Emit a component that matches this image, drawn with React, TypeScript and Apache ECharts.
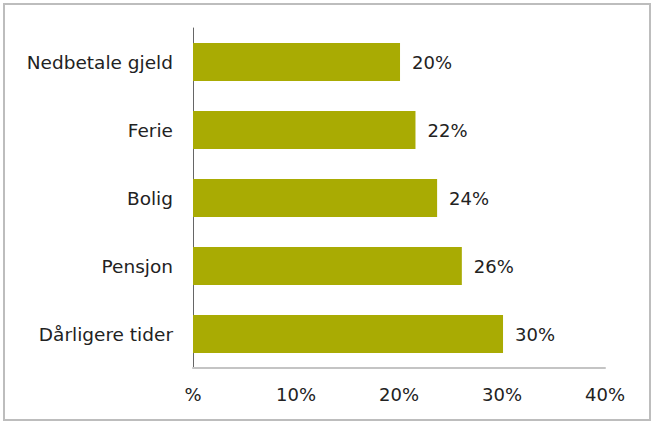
import React, { useEffect, useRef } from "react";
import * as echarts from "echarts";

const categories = ["Nedbetale gjeld", "Ferie", "Bolig", "Pensjon", "Dårligere tider"];
const values = [20.1, 21.6, 23.7, 26.1, 30.1];
const xTicks = [0, 10, 20, 30, 40];

export default function App() {
  const ref = useRef<HTMLDivElement>(null);
  useEffect(() => {
    document.body.style.margin = "0";
    const chart = echarts.init(ref.current!, null, { renderer: "svg" });
    const font = "DejaVu Sans";
    chart.setOption({
      animation: false,
      backgroundColor: "#ffffff",
      graphic: [
        {
          type: "rect",
          shape: { x: 4, y: 4, width: 646, height: 416 },
          style: { fill: "none", stroke: "#bdbdbd", lineWidth: 2 },
          silent: true,
        },
      ],
      grid: { left: 193, right: 49, top: 28, bottom: 56, containLabel: false },
      xAxis: {
        type: "value",
        min: xTicks[0],
        max: xTicks[xTicks.length - 1],
        interval: 10,
        axisLine: { show: true, lineStyle: { color: "#c4c4c4", width: 2 } },
        axisTick: { show: false },
        splitLine: { show: false },
        axisLabel: {
          margin: 17,
          color: "#222",
          fontFamily: font,
          fontSize: 18,
          formatter: (v: number) => (v === 0 ? "%" : v + "%"),
        },
      },
      yAxis: {
        type: "category",
        data: categories,
        inverse: true,
        axisLine: { show: true, lineStyle: { color: "#666", width: 1 } },
        axisTick: { show: false },
        axisLabel: { margin: 20, color: "#222", fontFamily: font, fontSize: 18.5 },
      },
      series: [
        {
          type: "bar",
          data: values,
          barWidth: 38,
          itemStyle: { color: "#a9ab03" },
          label: {
            show: true,
            position: "right",
            distance: 12,
            color: "#222",
            fontFamily: font,
            fontSize: 18,
            formatter: (p: any) => Math.round(p.value) + "%",
          },
        },
      ],
    });
    return () => chart.dispose();
  }, []);
  return <div ref={ref} style={{ width: 654, height: 424 }} />;
}
